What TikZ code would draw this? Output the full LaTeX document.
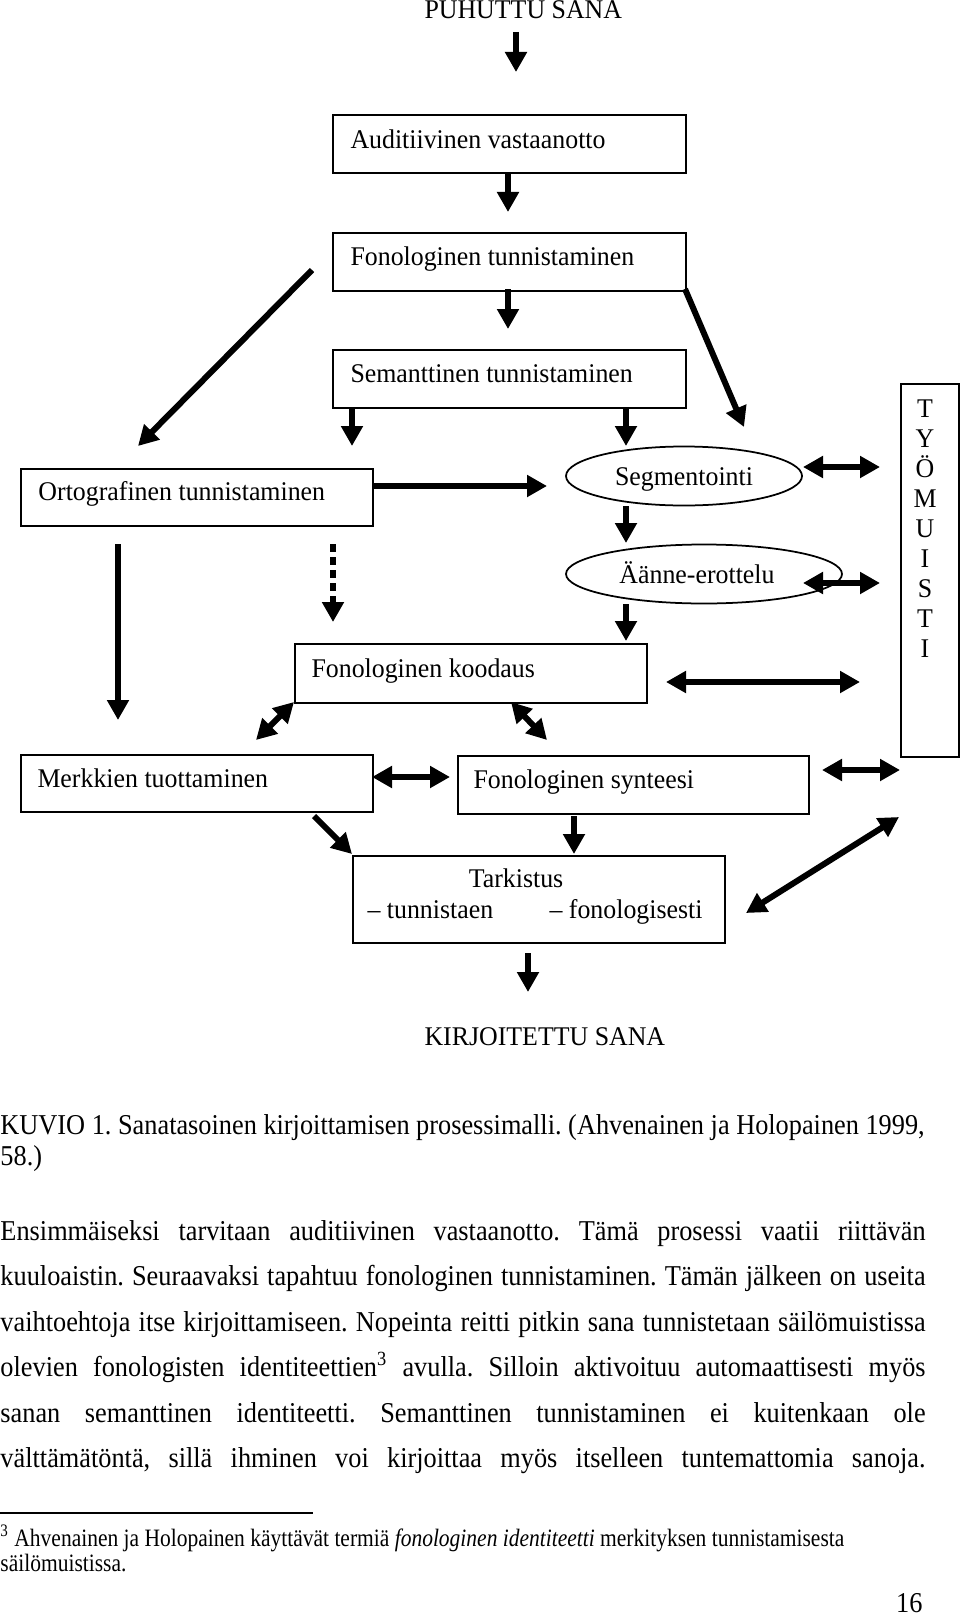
\documentclass[tikz,border=0pt]{standalone}
\usepackage{fontspec}
\usepackage{graphicx}
\setmainfont{Liberation Serif}
\usetikzlibrary{arrows.meta,shapes.geometric}
\frenchspacing
\newcommand{\hsq}[2]{\scalebox{#1}[1]{#2}}
\newcommand{\dl}[1]{\hsq{0.958}{#1}}
\newcommand{\bl}[1]{\hsq{0.915}{#1}}
\newcommand{\jl}[1]{\hsq{0.915}{\makebox[404.4pt][s]{#1}}}
\newcommand{\fl}[1]{\hsq{0.86}{#1}}
\begin{document}
\begin{tikzpicture}[x=0.4pt,y=-0.4pt,
  arr/.style={line width=2.4pt,-{Triangle[length=8pt,width=8.4pt]}},
  darr/.style={line width=2.4pt,{Triangle[length=8pt,width=8.4pt]}-{Triangle[length=8pt,width=8.4pt]}},
  dasharr/.style={line width=2.4pt,dash pattern=on 3.2pt off 2pt,-{Triangle[length=8pt,width=8.4pt]}},
  box/.style={draw,line width=0.8pt,inner sep=0,anchor=north west},
  ell/.style={draw,ellipse,line width=0.7pt,inner sep=0},
  lbl/.style={font=\fontsize{10.8}{13}\selectfont,inner sep=0,anchor=base west},
  body/.style={font=\fontsize{11.5}{14}\selectfont,inner sep=0,anchor=base west},
  foot/.style={font=\fontsize{10}{12}\selectfont,inner sep=0,anchor=base west}]
\useasboundingbox (0,0) rectangle (960,1619);

% ---- boxes ----
\node[box,minimum width=141.2pt,minimum height=23.2pt] (aud) at (332,114) {};
\node[box,minimum width=141.2pt,minimum height=23.2pt] (fon) at (332,232) {};
\node[box,minimum width=141.2pt,minimum height=23.2pt] (sem) at (332,349) {};
\node[box,minimum width=140.8pt,minimum height=22.8pt] (ort) at (20,468) {};
\node[ell,minimum width=94.4pt,minimum height=23.6pt] (seg) at (684,476) {};
\node[ell,minimum width=110.4pt,minimum height=23.6pt] (aan) at (704,574) {};
\node[box,minimum width=140.8pt,minimum height=23.6pt] (koo) at (294,643) {};
\node[box,minimum width=23.2pt,minimum height=149.2pt] (tyo) at (900,383) {};
\node[box,minimum width=140.8pt,minimum height=22.8pt] (mer) at (20,754) {};
\node[box,minimum width=140.4pt,minimum height=23.2pt] (syn) at (457,755) {};
\node[box,minimum width=148.8pt,minimum height=34.8pt] (tar) at (352,855) {};

% ---- labels ----
\node[lbl] (puh) at (424,19) {\dl{PUHUTTU SANA}};
\node[lbl] at (350,148) {\dl{Auditiivinen vastaanotto}};
\node[lbl] at (350,265) {\dl{Fonologinen tunnistaminen}};
\node[lbl] at (350,382) {\dl{Semanttinen tunnistaminen}};
\node[lbl] at (38,500) {\dl{Ortografinen tunnistaminen}};
\node[lbl,anchor=base] at (684,485) {\dl{Segmentointi}};
\node[lbl,anchor=base] at (697,583) {\dl{Äänne-erottelu}};
\node[lbl] at (311,677) {\dl{Fonologinen koodaus}};
\node[lbl] at (37,787) {\dl{Merkkien tuottaminen}};
\node[lbl] at (473,788) {\dl{Fonologinen synteesi}};
\node[lbl,anchor=base] at (516,887) {\dl{Tarkistus}};
\node[lbl] at (367,918) {\dl{– tunnistaen}};
\node[lbl] at (549,918) {\dl{– fonologisesti}};
\node[lbl] (kir) at (424,1045) {\dl{KIRJOITETTU SANA}};
\foreach \l [count=\i] in {T,Y,Ö,M,U,I,S,T,I}
  \node[lbl,anchor=base] at (925,387+30*\i) {\dl{\l}};

% ---- connector end points ----
\coordinate (p0a) at (516,32);  \coordinate (p0b) at (516,72);
\coordinate (p1a) at (508,172); \coordinate (p1b) at (508,212);
\coordinate (p2a) at (508,289); \coordinate (p2b) at (508,329);
\coordinate (p3a) at (352,407); \coordinate (p3b) at (352,446);
\coordinate (p4a) at (626,407); \coordinate (p4b) at (626,446);
\coordinate (p5a) at (312,270); \coordinate (p5b) at (138,446);
\coordinate (p6a) at (685,289); \coordinate (p6b) at (744,427);
\coordinate (p7a) at (372,486); \coordinate (p7b) at (547,486);
\coordinate (p8a) at (626,506); \coordinate (p8b) at (626,543);
\coordinate (p9a) at (626,604); \coordinate (p9b) at (626,641);
\coordinate (q1a) at (118,544); \coordinate (q1b) at (118,720);
\coordinate (q2a) at (333,544); \coordinate (q2b) at (333,622);
\coordinate (q3a) at (803,467); \coordinate (q3b) at (880,467);
\coordinate (q4a) at (803,583); \coordinate (q4b) at (880,583);
\coordinate (q5a) at (666,682); \coordinate (q5b) at (860,682);
\coordinate (q6a) at (294,702); \coordinate (q6b) at (256,740);
\coordinate (q7a) at (511,702); \coordinate (q7b) at (547,740);
\coordinate (r1a) at (372,777); \coordinate (r1b) at (450,777);
\coordinate (r2a) at (822,770); \coordinate (r2b) at (900,770);
\coordinate (r3a) at (314,816); \coordinate (r3b) at (352,854);
\coordinate (r4a) at (574,816); \coordinate (r4b) at (574,854);
\coordinate (r5a) at (746,913); \coordinate (r5b) at (899,817);
\coordinate (r6a) at (528,953); \coordinate (r6b) at (528,992);

% ---- connectors ----
\draw[arr] (p0a) -- (p0b);
\draw[arr] (p1a) -- (p1b);
\draw[arr] (p2a) -- (p2b);
\draw[arr] (p3a) -- (p3b);
\draw[arr] (p4a) -- (p4b);
\draw[arr] (p5a) -- (p5b);
\draw[arr] (p6a) -- (p6b);
\draw[arr] (p7a) -- (p7b);
\draw[arr] (p8a) -- (p8b);
\draw[arr] (p9a) -- (p9b);
\draw[arr] (q1a) -- (q1b);
\draw[dasharr] (q2a) -- (q2b);
\draw[darr] (q3a) -- (q3b);
\draw[darr] (q4a) -- (q4b);
\draw[darr] (q5a) -- (q5b);
\draw[darr] (q6a) -- (q6b);
\draw[darr] (q7a) -- (q7b);
\draw[darr] (r1a) -- (r1b);
\draw[darr] (r2a) -- (r2b);
\draw[arr] (r3a) -- (r3b);
\draw[arr] (r4a) -- (r4b);
\draw[darr] (r5a) -- (r5b);
\draw[arr] (r6a) -- (r6b);

% ---- caption and body text ----
\node[body] at (0,1134) {\bl{KUVIO 1. Sanatasoinen kirjoittamisen prosessimalli. (Ahvenainen ja Holopainen 1999,}};
\node[body] at (0,1165) {\bl{58.)}};
\node[body] at (0,1240) {\jl{Ensimmäiseksi tarvitaan auditiivinen vastaanotto. Tämä prosessi vaatii riittävän}};
\node[body] at (0,1285) {\jl{kuuloaistin. Seuraavaksi tapahtuu fonologinen tunnistaminen. Tämän jälkeen on useita}};
\node[body] at (0,1331) {\jl{vaihtoehtoja itse kirjoittamiseen. Nopeinta reitti pitkin sana tunnistetaan säilömuistissa}};
\node[body] at (0,1376) {\jl{olevien fonologisten identiteettien\textsuperscript{3} avulla. Silloin aktivoituu automaattisesti myös}};
\node[body] at (0,1422) {\jl{sanan semanttinen identiteetti. Semanttinen tunnistaminen ei kuitenkaan ole}};
\node[body] at (0,1467) {\jl{välttämätöntä, sillä ihminen voi kirjoittaa myös itselleen tuntemattomia sanoja.}};
\coordinate (fa) at (0,1513); \coordinate (fb) at (313,1513);
\draw[line width=0.5pt] (fa) -- (fb);
\node[foot] at (0,1546) {\fl{\textsuperscript{3} Ahvenainen ja Holopainen käyttävät termiä \textit{fonologinen identiteetti} merkityksen tunnistamisesta}};
\node[foot] at (0,1571) {\fl{säilömuistissa.}};
\node[body,anchor=base east] at (923,1612) {\bl{16}};
\end{tikzpicture}
\end{document}
